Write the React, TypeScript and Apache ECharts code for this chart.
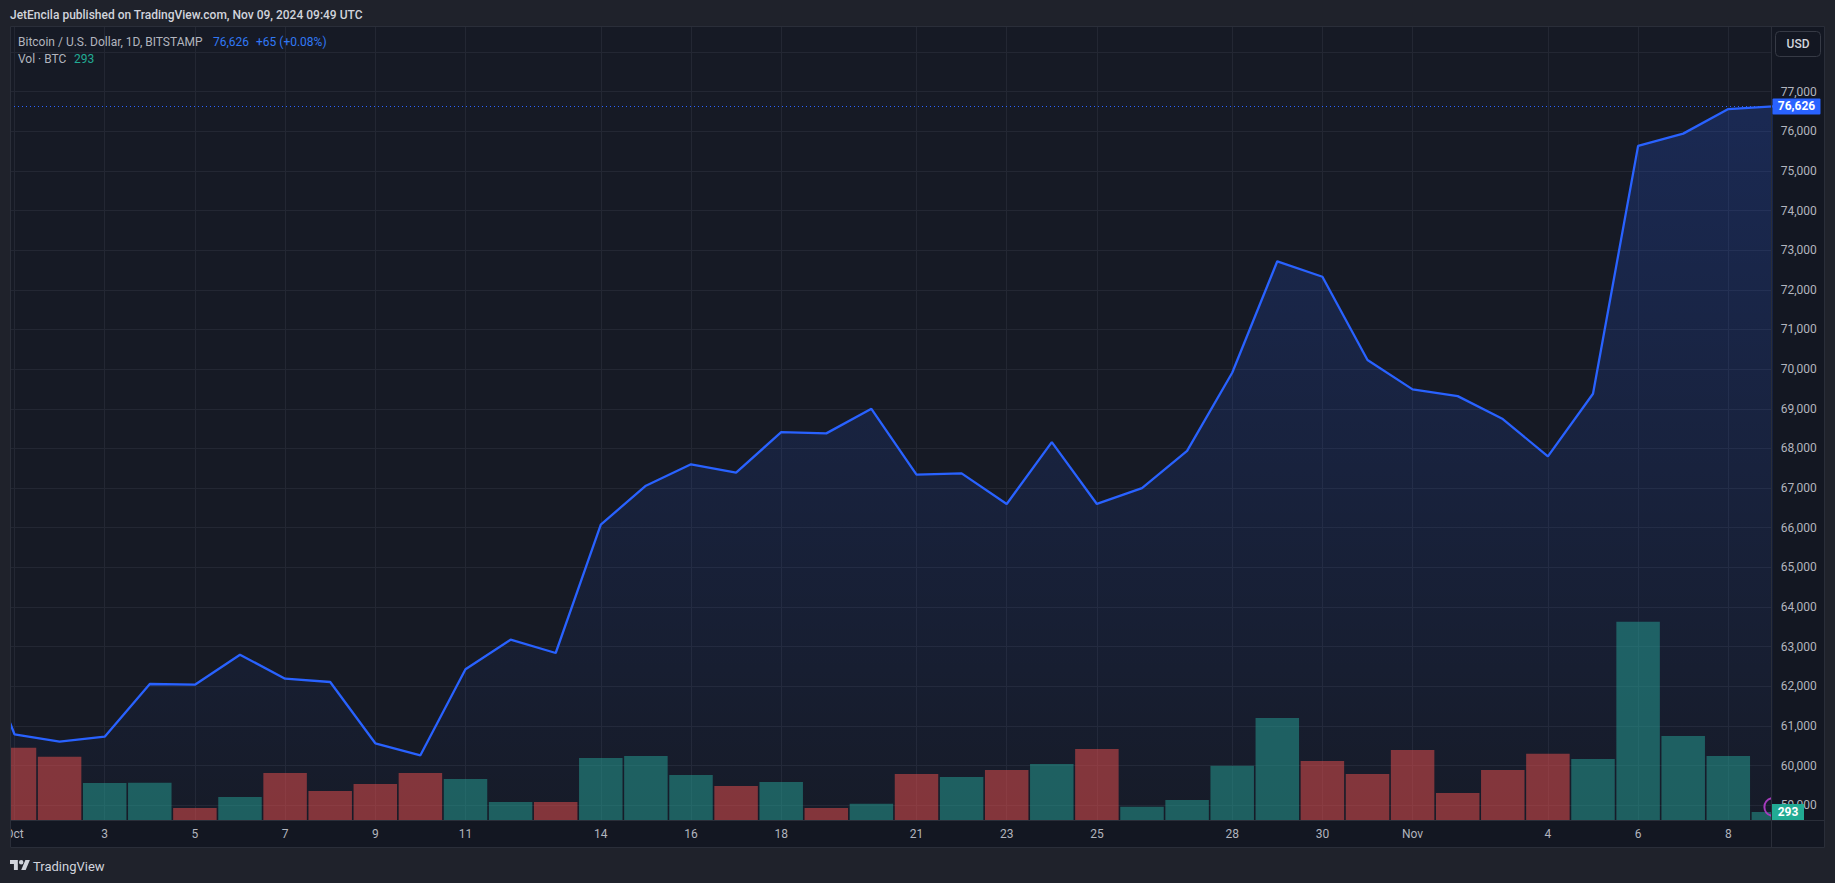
import React, { useEffect, useRef } from "react";
import * as echarts from "echarts";

// ---- data ----
const dates = [
  "Sep 30",
  "Oct 1", "Oct 2", "Oct 3", "Oct 4", "Oct 5", "Oct 6", "Oct 7", "Oct 8", "Oct 9", "Oct 10",
  "Oct 11", "Oct 12", "Oct 13", "Oct 14", "Oct 15", "Oct 16", "Oct 17", "Oct 18", "Oct 19", "Oct 20",
  "Oct 21", "Oct 22", "Oct 23", "Oct 24", "Oct 25", "Oct 26", "Oct 27", "Oct 28", "Oct 29", "Oct 30",
  "Oct 31",
  "Nov 1", "Nov 2", "Nov 3", "Nov 4", "Nov 5", "Nov 6", "Nov 7", "Nov 8", "Nov 9",
];

const closes = [
  63700,
  60791, 60604, 60730, 62059, 62042, 62798, 62193, 62110, 60564, 60261,
  62430, 63177, 62841, 66080, 67060, 67600, 67390, 68410, 68380, 69000,
  67340, 67370, 66600, 68160, 66600, 67000, 67940, 69910, 72720, 72330,
  70230,
  69490, 69320, 68740, 67800, 69380, 75630, 75940, 76560, 76626,
];

const volumes = [
  null,
  2640, 2310, 1350, 1360, 440, 840, 1720, 1060, 1320, 1720,
  1500, 660, 655, 2270, 2340, 1650, 1240, 1390, 440, 590,
  1680, 1570, 1830, 2050, 2600, 480, 730, 1980, 3730, 2160,
  1680,
  2560, 990, 1830, 2420, 2230, 7250, 3070, 2340, 293,
];

// x-axis tick positions (indices into dates)
const xTickIndex = [1, 3, 5, 7, 9, 11, 14, 16, 18, 21, 23, 25, 28, 30, 32, 35, 37, 39];

const priceGridValues = [
  59000, 60000, 61000, 62000, 63000, 64000, 65000, 66000, 67000, 68000,
  69000, 70000, 71000, 72000, 73000, 74000, 75000, 76000, 77000, 78000,
];
const priceLabelValues = [
  59000, 60000, 61000, 62000, 63000, 64000, 65000, 66000, 67000, 68000,
  69000, 70000, 71000, 72000, 73000, 74000, 75000, 76000, 77000,
];

const headerText = "JetEncila published on TradingView.com, Nov 09, 2024 09:49 UTC";
const symbolText = "Bitcoin / U.S. Dollar, 1D, BITSTAMP";
const lastPriceText = "76,626";
const changeText = "+65 (+0.08%)";
const volText = "Vol · BTC";
const lastVolText = "293";

// ---- styles ----
const FONT = "Roboto, 'Noto Sans', sans-serif";
const OUTER_BG = "#1f222b";
const AXIS_BG = "#131722";
const PANE_BG = "#161a25";
const GRID = "#232733";
const BORDER = "#2a2e39";
const TEXT = "#b2b5be";
const BLUE = "#2962ff";
const UP = "rgba(38,164,151,0.5)";
const DOWN = "rgba(240,80,77,0.5)";

const fmtPrice = (v: number) => Math.round(v).toLocaleString("en-US");

function buildOption() {
  const lineData = closes.map((c, i) => [i, c]);
  const volData = volumes.map((v, i) => {
    if (v == null) return { value: [i, 0] };
    const up = i === 0 ? true : closes[i] >= closes[i - 1];
    return { value: [i, v], itemStyle: { color: up ? UP : DOWN } };
  });
  return {
    animation: false,
    backgroundColor: AXIS_BG,
    grid: {
      left: 10,
      right: 63.3,
      top: 27,
      bottom: 63,
      show: true,
      backgroundColor: PANE_BG,
      borderWidth: 0,
    },
    xAxis: {
      type: "value",
      min: 0.90022,
      max: 39.9623,
      axisLine: { show: false },
      axisTick: { show: false, customValues: xTickIndex },
      splitLine: { show: true, lineStyle: { color: GRID, width: 1 } },
      axisLabel: {
        customValues: xTickIndex,
        color: TEXT,
        fontSize: 12,
        fontFamily: FONT,
        margin: 8,
        formatter: (v: number) => {
          const d = dates[Math.round(v)];
          if (!d) return "";
          const [m, day] = d.split(" ");
          return day === "1" ? m : day;
        },
      },
    },
    yAxis: [
      {
        type: "value",
        position: "right",
        min: 58629,
        max: 78629,
        scale: true,
        axisLine: { show: false },
        axisTick: { show: false, customValues: priceGridValues },
        splitLine: { show: true, lineStyle: { color: GRID, width: 1 } },
        axisLabel: {
          customValues: priceLabelValues,
          color: TEXT,
          fontSize: 12,
          fontFamily: FONT,
          margin: 9,
          formatter: (v: number) => fmtPrice(v),
        },
      },
      {
        type: "value",
        min: 0,
        max: 29000,
        show: false,
        splitLine: { show: false },
      },
    ],
    series: [
      {
        type: "line",
        data: lineData,
        showSymbol: false,
        symbol: "none",
        clip: true,
        z: 3,
        lineStyle: { color: BLUE, width: 2.3 },
        areaStyle: {
          color: new echarts.graphic.LinearGradient(0, 0, 0, 1, [
            { offset: 0, color: "rgba(41,98,255,0.30)" },
            { offset: 1, color: "rgba(41,98,255,0.02)" },
          ]),
        },
        markLine: {
          silent: true,
          symbol: ["none", "none"],
          label: { show: false },
          lineStyle: { color: BLUE, type: [1, 3], width: 1 },
          data: [{ yAxis: closes[closes.length - 1] }],
        },
      },
      {
        type: "bar",
        yAxisIndex: 1,
        data: volData,
        barWidth: 43.5,
        clip: true,
        z: 4,
      },
    ],
  };
}

function buildGraphic(py: number, vy: number, lx: number) {
  const Z = 100;
  const tvLogo = "logoTV";
  return [
    // outer background strips
    { type: "rect", z: Z, silent: true, shape: { x: 0, y: 0, width: 1835, height: 26.5 }, style: { fill: OUTER_BG } },
    { type: "rect", z: Z, silent: true, shape: { x: 0, y: 0, width: 10, height: 883 }, style: { fill: OUTER_BG } },
    { type: "rect", z: Z, silent: true, shape: { x: 1825, y: 0, width: 10, height: 883 }, style: { fill: OUTER_BG } },
    { type: "rect", z: Z, silent: true, shape: { x: 0, y: 848, width: 1835, height: 35 }, style: { fill: OUTER_BG } },
    // frame & separators
    { type: "rect", z: Z, silent: true, shape: { x: 10.5, y: 26.5, width: 1814, height: 821 }, style: { fill: "none", stroke: BORDER, lineWidth: 1 } },
    { type: "line", z: Z, silent: true, shape: { x1: 1771.5, y1: 26.5, x2: 1771.5, y2: 847.5 }, style: { stroke: BORDER, lineWidth: 1 } },
    { type: "line", z: Z, silent: true, shape: { x1: 10, y1: 820.5, x2: 1824, y2: 820.5 }, style: { stroke: BORDER, lineWidth: 1 } },
    // header
    { type: "text", z: Z, x: 10, y: 15, style: { text: headerText, fill: "#d1d4dc", font: `500 12px ${FONT}`, verticalAlign: "middle", align: "left" } },
    // legend
    { type: "text", z: Z, x: 18, y: 42, style: { text: symbolText, fill: TEXT, font: `12px ${FONT}`, verticalAlign: "middle" } },
    { type: "text", z: Z, x: 213, y: 42, style: { text: lastPriceText, fill: "#3179f5", font: `12px ${FONT}`, verticalAlign: "middle" } },
    { type: "text", z: Z, x: 256, y: 42, style: { text: changeText, fill: "#3179f5", font: `12px ${FONT}`, verticalAlign: "middle" } },
    { type: "text", z: Z, x: 18, y: 59, style: { text: volText, fill: TEXT, font: `12px ${FONT}`, verticalAlign: "middle" } },
    { type: "text", z: Z, x: 74, y: 59, style: { text: lastVolText, fill: "#22ab94", font: `12px ${FONT}`, verticalAlign: "middle" } },
    // USD button
    { type: "rect", z: Z, shape: { x: 1775.5, y: 31.5, width: 45, height: 25, r: 4 }, style: { fill: AXIS_BG, stroke: "#363a45", lineWidth: 1 } },
    { type: "text", z: Z + 1, x: 1798, y: 44, style: { text: "USD", fill: "#d1d4dc", font: `500 12px ${FONT}`, align: "center", verticalAlign: "middle" } },
    // last price label
    { type: "rect", z: Z, shape: { x: 1772.5, y: py - 8, width: 48, height: 16, r: 1 }, style: { fill: BLUE } },
    { type: "text", z: Z + 1, x: 1796.5, y: py, style: { text: lastPriceText, fill: "#ffffff", font: `bold 12px ${FONT}`, align: "center", verticalAlign: "middle" } },
    // purple marker (partially hidden)
    { type: "arc", z: 50, shape: { cx: lx, cy: vy - 5, r: 9, startAngle: 1.8, endAngle: 4.48, clockwise: true }, style: { stroke: "#a63bbd", lineWidth: 2, fill: "none" } },
    // last volume label
    { type: "rect", z: Z, shape: { x: 1772, y: vy - 8, width: 32, height: 16 }, style: { fill: "#22ab94" } },
    { type: "text", z: Z + 1, x: 1788, y: vy, style: { text: lastVolText, fill: "#ffffff", font: `bold 12px ${FONT}`, align: "center", verticalAlign: "middle" } },
    // TradingView footer logo
    { type: tvLogo, z: Z + 1, x: 10, y: 857.8, scaleX: 0.56, scaleY: 0.56, style: { fill: "#d1d4dc" } },
    { type: "text", z: Z + 1, x: 33, y: 866, style: { text: "TradingView", fill: "#d1d4dc", font: `13px ${FONT}`, verticalAlign: "middle" } },
  ];
}

let registered = false;
function registerShapes() {
  if (registered) return;
  registered = true;
  const d = "M14 22H7V11H0V4h14v18zM28 22h-8l7.5-18h8L28 22zM24 8a4 4 0 1 1-8 0a4 4 0 1 1 8 0z";
  echarts.graphic.registerShape("logoTV", echarts.graphic.extendPath(d, {}) as any);
}

export default function App() {
  const ref = useRef<HTMLDivElement>(null);
  useEffect(() => {
    registerShapes();
    const el = ref.current!;
    const chart = echarts.init(el, null, { renderer: "svg" });
    chart.setOption(buildOption() as any);
    const last = closes.length - 1;
    const py = chart.convertToPixel({ yAxisIndex: 0 } as any, closes[last]) as number;
    const vy = chart.convertToPixel({ yAxisIndex: 1 } as any, volumes[last] as number) as number;
    const lx = chart.convertToPixel({ xAxisIndex: 0 } as any, last) as number;
    chart.setOption({ graphic: buildGraphic(py, vy, lx) } as any);
    return () => chart.dispose();
  }, []);
  return (
    <div
      ref={ref}
      style={{ position: "fixed", left: 0, top: 0, width: 1835, height: 883, background: OUTER_BG }}
    />
  );
}
